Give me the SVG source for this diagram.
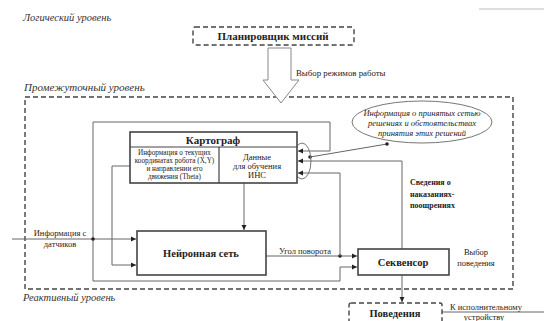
<svg xmlns="http://www.w3.org/2000/svg" width="544" height="321" viewBox="0 0 544 321" font-family="'Liberation Serif','DejaVu Serif',serif">
<style>
text{font-family:"Liberation Serif","DejaVu Serif",serif;fill:#222}
.lvl{font-style:italic;fill:#333}
.b{font-weight:bold}
.box{fill:#fff;stroke:#444;stroke-width:1.6}
.dbox{fill:#fff;stroke:#444;stroke-width:1.4;stroke-dasharray:5,3}
.ln{fill:none;stroke:#666;stroke-width:1}
.dot{fill:#222}
</style>
<defs>
<marker id="ah" markerWidth="6" markerHeight="6" refX="5" refY="3" orient="auto" markerUnits="userSpaceOnUse">
<path d="M0,0.5 L5,3 L0,5.5 Z" fill="#222"/>
</marker>
</defs>
<rect width="544" height="321" fill="#fff"/>
<line x1="479" y1="9" x2="544" y2="9" stroke="#bbb" stroke-width="1"/>

<text class="lvl" x="23" y="21" font-size="10.5">Логический уровень</text>
<text class="lvl" x="24" y="91" font-size="11">Промежуточный уровень</text>
<text class="lvl" x="23" y="301" font-size="10.5">Реактивный уровень</text>

<g id="intermediate-level">
<path d="M25,289 V97 H513 V289 H25" class="dbox" style="fill:none"/>
</g>

<g id="planner">
<rect x="193" y="27" width="161" height="18" rx="2" class="dbox"/>
<text x="273" y="40" text-anchor="middle" class="b" font-size="11">Планировщик миссий</text>
</g>

<g id="mode-arrow">
<polygon points="268,48 291,48 291,80 299,80 281,103 263,80 268,80" fill="#fff" stroke="#888" stroke-width="1"/>
<text x="296" y="76" font-size="8.8">Выбор режимов работы</text>
</g>

<g id="connectors">
<polyline class="ln" points="93,239 93,122 330,122 330,151 298,151" marker-end="url(#ah)"/>
<polyline class="ln" points="93,239 93,281 340,281 340,267 357,267" marker-end="url(#ah)"/>
<line class="ln" x1="12" y1="239" x2="136" y2="239" marker-end="url(#ah)"/>
<circle class="dot" cx="93" cy="239" r="1.8"/>
<polyline class="ln" points="130,166 112,166 112,265 136,265" marker-end="url(#ah)"/>
<line class="ln" x1="244" y1="183" x2="244" y2="230" marker-end="url(#ah)"/>
<line class="ln" x1="266" y1="256" x2="357" y2="256" marker-end="url(#ah)"/>
<circle class="dot" cx="340" cy="256" r="1.8"/>
<polyline class="ln" points="340,256 340,173 298,173" marker-end="url(#ah)"/>
<polyline class="ln" points="402,249 402,161 298,161" marker-end="url(#ah)"/>
<line class="ln" x1="310" y1="157" x2="387" y2="144"/>
<circle class="dot" cx="310" cy="157" r="1.8"/>
<circle class="dot" cx="387" cy="144" r="1.8"/>
<ellipse cx="302" cy="161" rx="9" ry="18" fill="none" stroke="#777" stroke-width="1"/>
<line class="ln" x1="402" y1="275" x2="402" y2="302" marker-end="url(#ah)"/>
<line class="ln" x1="442" y1="312" x2="544" y2="312"/>
</g>

<g id="bubble">
<ellipse cx="422" cy="122" rx="70" ry="21" fill="#fff" stroke="#777" stroke-width="1"/>
<text x="422" y="116" text-anchor="middle" font-size="8.5" font-style="italic">Информация о принятых сетью</text>
<text x="422" y="126" text-anchor="middle" font-size="8.5" font-style="italic">решениях и обстоятельствах</text>
<text x="422" y="136" text-anchor="middle" font-size="8.5" font-style="italic">принятия этих решений</text>
</g>

<g id="kartograf">
<rect x="130" y="132" width="167" height="51" class="box"/>
<line x1="130" y1="147" x2="297" y2="147" stroke="#444" stroke-width="1.2"/>
<line x1="219" y1="147" x2="219" y2="183" stroke="#444" stroke-width="1.2"/>
<text x="213" y="144" text-anchor="middle" class="b" font-size="11">Картограф</text>
<text x="174.5" y="155" text-anchor="middle" font-size="7.2">Информация о текущих</text>
<text x="174.5" y="163" text-anchor="middle" font-size="7.2">координатах робота (X,Y)</text>
<text x="174.5" y="171" text-anchor="middle" font-size="7.2">и направлении его</text>
<text x="174.5" y="179" text-anchor="middle" font-size="7.2">движения (Theta)</text>
<text x="257" y="160" text-anchor="middle" font-size="8.5">Данные</text>
<text x="257" y="169" text-anchor="middle" font-size="8.5">для обучения</text>
<text x="257" y="178" text-anchor="middle" font-size="8.5">ИНС</text>
</g>

<g id="sensor-label">
<text x="60" y="236" text-anchor="middle" font-size="8.5">Информация с</text>
<text x="60" y="247" text-anchor="middle" font-size="8.5">датчиков</text>
</g>

<g id="neural-net">
<rect x="137" y="231" width="129" height="44" class="box"/>
<text x="201" y="257" text-anchor="middle" class="b" font-size="10.5">Нейронная сеть</text>
</g>

<text x="305" y="254" text-anchor="middle" font-size="8.5">Угол поворота</text>

<g id="reward-label">
<text x="410" y="185" class="b" font-size="8">Сведения о</text>
<text x="410" y="197" class="b" font-size="8">наказаниях-</text>
<text x="410" y="208" class="b" font-size="8">поощрениях</text>
</g>

<g id="sequencer">
<rect x="358" y="249" width="91" height="26" class="box"/>
<text x="403" y="266" text-anchor="middle" class="b" font-size="10.5">Секвенсор</text>
</g>

<g id="behavior-label">
<text x="476" y="255" text-anchor="middle" font-size="8.5">Выбор</text>
<text x="476" y="266" text-anchor="middle" font-size="8.5">поведения</text>
</g>

<g id="behaviors">
<rect x="349" y="303" width="93" height="24" rx="2" class="dbox"/>
<text x="395" y="317" text-anchor="middle" class="b" font-size="10.5">Поведения</text>
<text x="486" y="310" text-anchor="middle" font-size="8.5">К исполнительному</text>
<text x="484" y="320" text-anchor="middle" font-size="8.5">устройству</text>
</g>
</svg>
